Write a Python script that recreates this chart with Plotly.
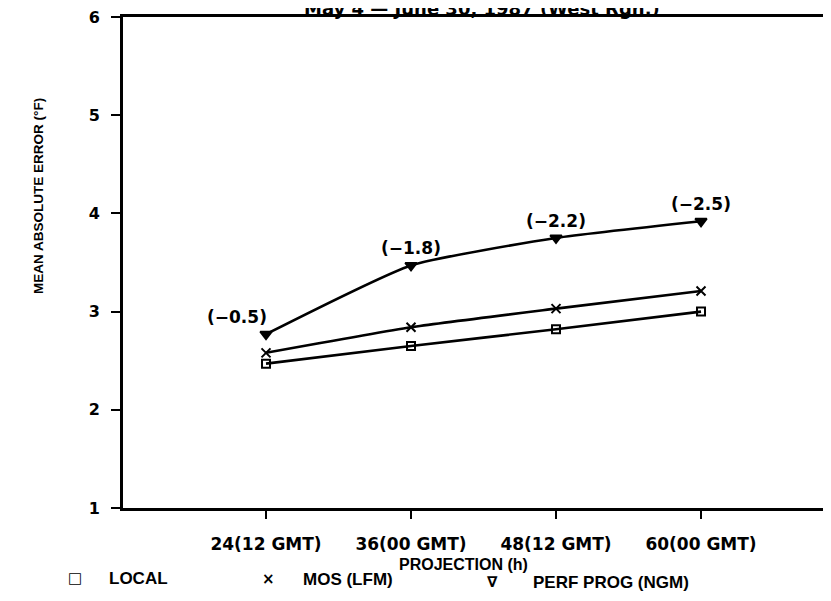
import plotly.graph_objects as go

projection_h = [24, 36, 48, 60]
tick_labels = ["24(12 GMT)", "36(00 GMT)", "48(12 GMT)", "60(00 GMT)"]
local_mae = [2.47, 2.65, 2.82, 3.00]
mos_lfm_mae = [2.58, 2.84, 3.03, 3.21]
perf_prog_mae = [2.77, 3.47, 3.75, 3.92]
perf_prog_bias = ["(\u22120.5)", "(\u22121.8)", "(\u22122.2)", "(\u22122.5)"]

WIDE = "DejaVu Sans"
NARROW = "Liberation Sans"
BLACK = "#000000"

# page offset of the figure inside the browser window
OFF = 7
L, T, B = 115, 9, 101
W, H = 831, 601
PW = W - L
PH = H - T - B


def px(xw):
    return (xw - OFF - L) / PW


def py(yw):
    return (H - B - (yw - OFF)) / PH


fig = go.Figure()


def add_series(y, symbol, size, name):
    fig.add_trace(go.Scatter(
        x=projection_h, y=y, mode="lines+markers", name=name,
        line=dict(color=BLACK, width=2.6, shape="spline", smoothing=0.5),
        marker=dict(symbol=symbol, size=size, color=BLACK,
                    line=dict(color=BLACK, width=2)),
        showlegend=False,
    ))


add_series(local_mae, "square-open", 8, "LOCAL")
add_series(mos_lfm_mae, "x-thin", 9, "MOS (LFM)")
add_series(perf_prog_mae, "triangle-down", 10, "PERF PROG (NGM)")

annotations = []
for i, (xv, yv, txt) in enumerate(zip(projection_h, perf_prog_mae, perf_prog_bias)):
    annotations.append(dict(
        x=xv, y=yv, xref="x", yref="y", text="<b>%s</b>" % txt, showarrow=False,
        xshift=-29 if i == 0 else 0, yshift=17,
        font=dict(family=WIDE, size=17, color=BLACK),
    ))

# title (clipped at top, as in the scan)
annotations.append(dict(
    x=px(481), y=py(7), xref="paper", yref="paper",
    text="<b>May 4 \u2014 June 30, 1987 (West Rgn.)</b>",
    showarrow=False, xanchor="center", yanchor="middle",
    font=dict(family=WIDE, size=18, color=BLACK),
))

# y axis title
annotations.append(dict(
    x=px(37), y=py(195), xref="paper", yref="paper",
    text="<b>MEAN ABSOLUTE ERROR (\u00b0F)</b>",
    showarrow=False, textangle=-90, xanchor="center", yanchor="middle",
    font=dict(family=NARROW, size=13.5, color=BLACK),
))

# x axis title
annotations.append(dict(
    x=px(462), y=py(563), xref="paper", yref="paper",
    text="<b>PROJECTION (h)</b>", showarrow=False, xanchor="center", yanchor="middle",
    font=dict(family=NARROW, size=16, color=BLACK),
))

# legend entries
legend_items = [("\u25a1", 74, 577, "LOCAL", 106),
                ("\u00d7", 267, 578, "MOS (LFM)", 300),
                ("\u2207", 491, 581, "PERF PROG (NGM)", 530)]
for sym, sx, sy, label, lx in legend_items:
    annotations.append(dict(
        x=px(sx), y=py(sy), xref="paper", yref="paper",
        text="<b>%s</b>" % sym, showarrow=False, xanchor="center", yanchor="middle",
        font=dict(family=WIDE, size=15, color=BLACK),
    ))
    annotations.append(dict(
        x=px(lx), y=py(sy), xref="paper", yref="paper",
        text="<b>%s</b>" % label, showarrow=False, xanchor="left", yanchor="middle",
        font=dict(family=NARROW, size=17, color=BLACK),
    ))

fig.update_layout(
    width=W, height=H,
    margin=dict(l=L, r=0, t=T, b=B, pad=0),
    paper_bgcolor="white", plot_bgcolor="white",
    font=dict(family=WIDE, color=BLACK),
    annotations=annotations,
    showlegend=False,
)

fig.update_xaxes(
    range=[12.165, 71.42], tickvals=projection_h,
    ticktext=["<b>%s</b>" % t for t in tick_labels],
    showgrid=False, zeroline=False, showline=True, linecolor=BLACK, linewidth=2.6,
    mirror=True, ticks="outside", ticklen=8, tickwidth=2, tickcolor=BLACK,
    tickfont=dict(family=WIDE, size=17, color=BLACK), ticklabelstandoff=11,
)
fig.update_yaxes(
    range=[1, 6], tickvals=[1, 2, 3, 4, 5, 6],
    ticktext=["<b>%d</b>" % v for v in [1, 2, 3, 4, 5, 6]],
    showgrid=False, zeroline=False, showline=True, linecolor=BLACK, linewidth=2.6,
    ticks="outside", ticklen=9, tickwidth=2, tickcolor=BLACK,
    tickfont=dict(family=WIDE, size=16, color=BLACK), ticklabelstandoff=8,
    ticklabeloverflow="allow",
)

fig.write_html("out.html")
